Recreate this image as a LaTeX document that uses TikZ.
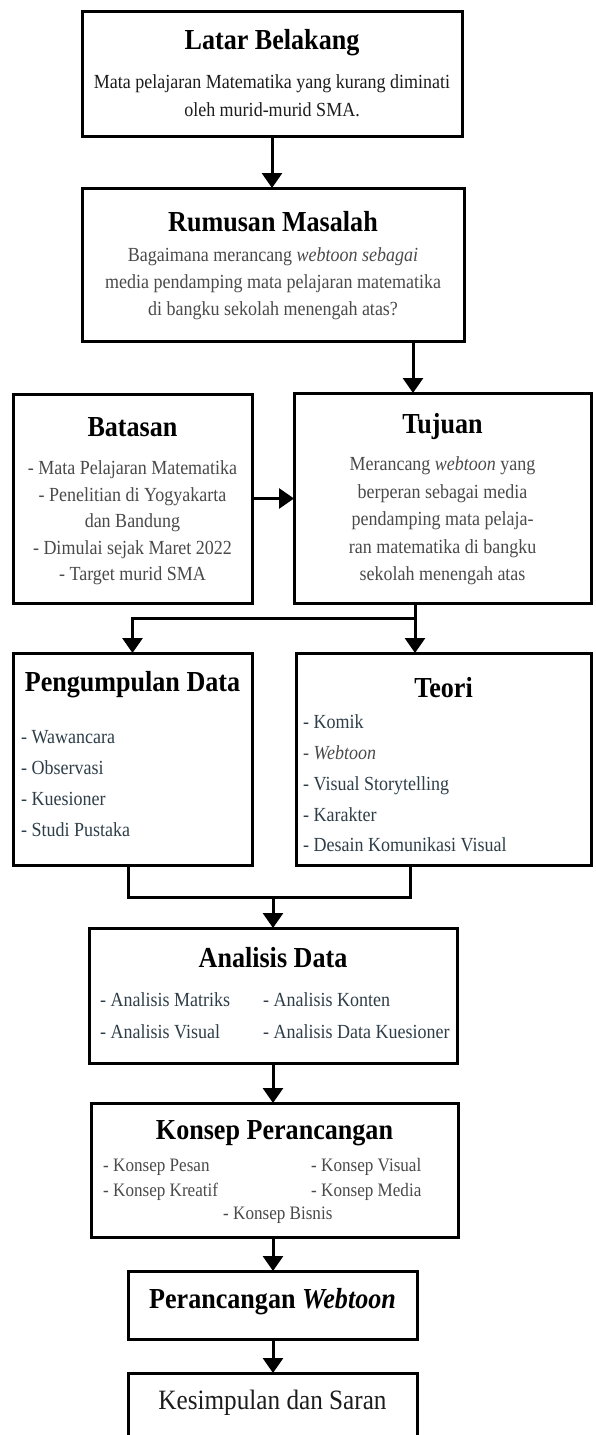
\documentclass[tikz,border=0pt]{standalone}
\usepackage{fontspec}
\setmainfont{Liberation Serif}[FakeStretch=0.9]
\usetikzlibrary{arrows.meta}
\definecolor{isiabu}{HTML}{4A4A4A}
\definecolor{isislate}{HTML}{2E3E48}
\definecolor{isihitam}{HTML}{1C1C1C}
\tikzset{
  kotak/.style={draw, line width=3pt, rectangle, inner sep=0pt, outer sep=0pt},
  judul/.style={font=\fontsize{29}{34}\selectfont\bfseries, inner sep=0pt},
  isi/.style={font=\fontsize{20}{27}\selectfont, inner sep=0pt, align=center},
  garis/.style={line width=3pt},
  panah/.style={line width=3pt, -{Triangle[width=20pt,length=15pt]}}
}
\begin{document}
\begin{tikzpicture}[x=1pt,y=-1pt]
	\useasboundingbox (0,0) rectangle (595,1435);
	% Kotak
	\node[kotak, minimum width=380pt, minimum height=125pt] (latar) at (272,73.5) {};
	\node[kotak, minimum width=382pt, minimum height=153pt] (rumusan) at (273,264.5) {};
	\node[kotak, minimum width=239pt, minimum height=209pt] (batasan) at (132.5,498.5) {};
	\node[kotak, minimum width=297pt, minimum height=210pt] (tujuan) at (442.5,498) {};
	\node[kotak, minimum width=239pt, minimum height=212pt] (pengumpulan) at (132.5,759) {};
	\node[kotak, minimum width=295pt, minimum height=212pt] (teori) at (443.5,759) {};
	\node[kotak, minimum width=368pt, minimum height=135pt] (analisis) at (273,995.5) {};
	\node[kotak, minimum width=367pt, minimum height=134pt] (konsep) at (274.5,1170) {};
	\node[kotak, minimum width=289pt, minimum height=68pt] (perancangan) at (272.5,1305) {};
	\node[kotak, minimum width=289pt, minimum height=67pt] (kesimpulan) at (272.5,1406.5) {};
	% Latar Belakang
	\node[judul] (latar-judul) at (272,43) {Latar Belakang};
	\node[isi, text=isihitam, font=\fontsize{20}{28}\selectfont] (latar-isi) at (272,96)
		{Mata pelajaran Matematika yang kurang diminati\\ oleh murid-murid SMA.};
	% Rumusan Masalah
	\node[judul] (rumusan-judul) at (273,222) {Rumusan Masalah};
	\node[isi, text=isiabu] (rumusan-isi) at (273,284)
		{Bagaimana merancang \textit{webtoon sebagai}\\ media pendamping mata pelajaran matematika\\ di bangku sekolah menengah atas?};
	% Batasan
	\node[judul] (batasan-judul) at (132.5,427) {Batasan};
	\node[isi, text=isiabu, font=\fontsize{20}{26.5}\selectfont] (batasan-isi) at (132.5,523)
		{- Mata Pelajaran Matematika\\ - Penelitian di Yogyakarta\\ dan Bandung\\ - Dimulai sejak Maret 2022\\ - Target murid SMA};
	% Tujuan
	\node[judul] (tujuan-judul) at (442.5,427) {Tujuan};
	\node[isi, text=isiabu, font=\fontsize{20}{27.5}\selectfont] (tujuan-isi) at (442.5,521)
		{Merancang \textit{webtoon} yang\\ berperan sebagai media\\ pendamping mata pelaja-\\ ran matematika di bangku\\ sekolah menengah atas};
	% Pengumpulan Data
	\node[judul] (pengumpulan-judul) at (132.5,685) {Pengumpulan Data};
	\node[isi, text=isislate, align=left, anchor=west, font=\fontsize{20}{31}\selectfont] (pengumpulan-isi) at (21,783.5)
		{- Wawancara\\ - Observasi\\ - Kuesioner\\ - Studi Pustaka};
	% Teori
	\node[judul] (teori-judul) at (443.5,688) {Teori};
	\node[isi, text=isislate, align=left, anchor=west, font=\fontsize{20}{30.75}\selectfont] (teori-isi) at (303,783.5)
		{- Komik\\ \textcolor{isiabu}{\itshape - Webtoon}\\ - Visual Storytelling\\ - Karakter\\ - Desain Komunikasi Visual};
	% Analisis Data
	\node[judul] (analisis-judul) at (273,958) {Analisis Data};
	\node[isi, text=isislate, align=left, anchor=west, font=\fontsize{20}{32}\selectfont] (analisis-kiri) at (100,1016)
		{- Analisis Matriks\\ - Analisis Visual};
	\node[isi, text=isislate, align=left, anchor=west, font=\fontsize{20}{32}\selectfont] (analisis-kanan) at (263,1016)
		{- Analisis Konten\\ - Analisis Data Kuesioner};
	% Konsep Perancangan
	\node[judul] (konsep-judul) at (274.5,1133) {Konsep Perancangan};
	\node[isi, text=isiabu, align=left, anchor=west, font=\fontsize{19}{25}\selectfont] (konsep-kiri) at (103,1179.5)
		{- Konsep Pesan\\ - Konsep Kreatif};
	\node[isi, text=isiabu, align=left, anchor=west, font=\fontsize{19}{25}\selectfont] (konsep-kanan) at (311,1179.5)
		{- Konsep Visual\\ - Konsep Media};
	\node[isi, text=isiabu, anchor=west, font=\fontsize{19}{25}\selectfont] (konsep-bisnis) at (223,1215) {- Konsep Bisnis};
	% Perancangan Webtoon
	\node[judul] (perancangan-judul) at (272.5,1302) {Perancangan \textit{Webtoon}};
	% Kesimpulan
	\node[isi, text=isihitam, font=\fontsize{28}{32}\selectfont] (kesimpulan-isi) at (272.5,1403) {Kesimpulan dan Saran};
	% Panah
	\draw[panah] (latar.south) -- (latar.south |- rumusan.north);
	\draw[panah] ([xshift=-51pt]rumusan.south east) -- ([xshift=-51pt]rumusan.south east |- tujuan.north);
	\draw[panah] (batasan.east) -- (batasan.east -| tujuan.west);
	\coordinate (cabang) at (415,618);
	\draw[garis] (cabang |- tujuan.south) -- (cabang);
	\draw[panah] (cabang) -| (pengumpulan.north);
	\draw[panah] (cabang) -- (cabang |- teori.north);
	\coordinate (gabung) at (273,897);
	\draw[garis] ([xshift=-4.5pt]pengumpulan.south) |- (gabung) -| ([xshift=-33.5pt]teori.south);
	\draw[panah] (gabung) -- (gabung |- analisis.north);
	\draw[panah] (analisis.south) -- (analisis.south |- konsep.north);
	\draw[panah] (analisis.south |- konsep.south) -- (analisis.south |- perancangan.north);
	\draw[panah] (analisis.south |- perancangan.south) -- (analisis.south |- kesimpulan.north);
\end{tikzpicture}
\end{document}
